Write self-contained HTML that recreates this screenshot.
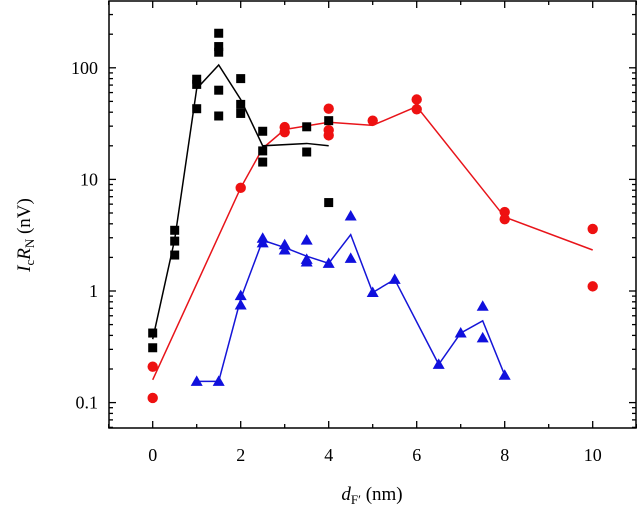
<!DOCTYPE html>
<html><head><meta charset="utf-8"><style>
body{margin:0;background:#fff;}
svg{display:block;font-family:"Liberation Serif",serif;}
</style></head><body>
<svg id="chart" width="637" height="512" viewBox="0 0 637 512"></svg>
<script>
const blackX=[0,0,0.5,0.5,0.5,1,1,1,1.5,1.5,1.5,1.5,1.5,2,2,2,2.5,2.5,2.5,3.5,3.5,4,4];
const blackY=[0.42,0.31,3.5,2.8,2.1,79,71,43,204,155,138,63,37,80,47,39,27,18,14.3,29.6,17.6,33.6,6.2];
const blackLineX=[0,0.5,1,1.5,2,2.5,3.5,4];
const blackLineY=[0.37,2.9,65,106,52,20,21,20];
const redX=[0,0,2,3,3,4,4,4,5,6,6,8,8,10,10];
const redY=[0.21,0.11,8.4,29.4,26.5,43,27.6,24.8,33.6,52,42.5,5.1,4.4,3.6,1.1];
const redLineX=[0,2,2.5,3,4,5,6,8,10];
const redLineY=[0.16,8.4,19,28,32.5,30.5,45,4.6,2.33];
const blueX=[1,1.5,2,2,2.5,2.5,3,3,3.5,3.5,3.5,4,4.5,4.5,5,5.5,6.5,7,7.5,7.5,8];
const blueY=[0.155,0.155,0.91,0.75,2.97,2.7,2.6,2.33,2.86,1.92,1.82,1.77,4.7,1.96,0.97,1.27,0.22,0.42,0.73,0.38,0.176];
const blueLineX=[1,1.5,2,2.5,3,3.5,4,4.5,5,5.5,6.5,7,7.5,8];
const blueLineY=[0.155,0.155,0.85,2.85,2.45,2.05,1.77,3.2,0.97,1.27,0.22,0.42,0.54,0.176];
const xTicks=[0,2,4,6,8,10];
const yTicks=[0.1,1,10,100];
const yTickLabels=["0.1","1","10","100"];

const L=109,R=636,T=1,B=428;
const xS=v=>152.7+44*v;
const yS=v=>291-111.6*Math.log10(v);
const svg=document.getElementById('chart');
const NS='http://www.w3.org/2000/svg';
function mk(tag,attrs,parent){const e=document.createElementNS(NS,tag);for(const k in attrs)e.setAttribute(k,attrs[k]);(parent||svg).appendChild(e);return e;}

const axes=mk('g',{});


const frame=mk('rect',{x:L,y:T,width:R-L,height:B-T,fill:'none',stroke:'#000','stroke-width':1.5},axes);


for(let v=-1;v<=11;v++){
  const x=xS(v);const len=v%2===0?7:4;
  mk('line',{x1:x,x2:x,y1:B,y2:B-len,stroke:'#000','stroke-width':1.3},axes);
  mk('line',{x1:x,x2:x,y1:T,y2:T+len,stroke:'#000','stroke-width':1.3},axes);
}
xTicks.forEach(v=>{
  const t=mk('text',{x:xS(v),y:461,'font-size':18,'text-anchor':'middle'});
  t.textContent=v;
  
  
});
for(let d=-2;d<=2;d++){
  for(let m=1;m<=9;m++){
    const v=m*Math.pow(10,d);const y=yS(v);
    if(y<T||y>B)continue;
    const len=m===1?7:4;
    mk('line',{x1:L,x2:L+len,y1:y,y2:y,stroke:'#000','stroke-width':1.3},axes);
    mk('line',{x1:R,x2:R-len,y1:y,y2:y,stroke:'#000','stroke-width':1.3},axes);
  }
}
yTicks.forEach((v,i)=>{
  const t=mk('text',{x:98,y:yS(v)+6,'font-size':18,'text-anchor':'end'});
  t.textContent=yTickLabels[i];
  
  
});

function line(xs,ys,color,name){
  const p=mk('polyline',{points:xs.map((x,i)=>xS(x)+','+yS(ys[i])).join(' '),fill:'none',stroke:color,'stroke-width':1.5});
  
  
}
function pts(xs,ys,color,shape,name){
  const g=mk('g',{fill:color});
  
  
  xs.forEach((x,i)=>{
    const cx=xS(x),cy=yS(ys[i]);let e;
    if(shape==='sq')e=mk('rect',{x:cx-4.5,y:cy-4.5,width:9,height:9},g);
    else if(shape==='c')e=mk('circle',{cx:cx,cy:cy,r:5.2},g);
    else e=mk('polygon',{points:`${cx},${cy-6} ${cx-6},${cy+4.5} ${cx+6},${cy+4.5}`},g);
    
    
  });
}
line(redLineX,redLineY,'#e8141a','red-fit-line');
line(blueLineX,blueLineY,'#1515d8','blue-fit-line');
line(blackLineX,blackLineY,'#000','black-fit-line');
pts(redX,redY,'#ee1111','c','red-series');
pts(blueX,blueY,'#1010dd','t','blue-series');
pts(blackX,blackY,'#000','sq','black-series');

const xt=mk('text',{x:372,y:500,'font-size':19,'text-anchor':'middle'});


xt.innerHTML='<tspan font-style="italic">d</tspan><tspan font-size="13" dy="4">F′</tspan><tspan dy="-4"> (nm)</tspan>';
const yt=mk('text',{x:0,y:0,'font-size':19,'text-anchor':'middle',transform:'translate(30,235) rotate(-90)'});


yt.innerHTML='<tspan font-style="italic">I</tspan><tspan font-size="13" dy="4">c</tspan><tspan font-style="italic" dy="-4">R</tspan><tspan font-size="13" dy="4">N</tspan><tspan dy="-4"> (nV)</tspan>';
</script>
</body></html>
